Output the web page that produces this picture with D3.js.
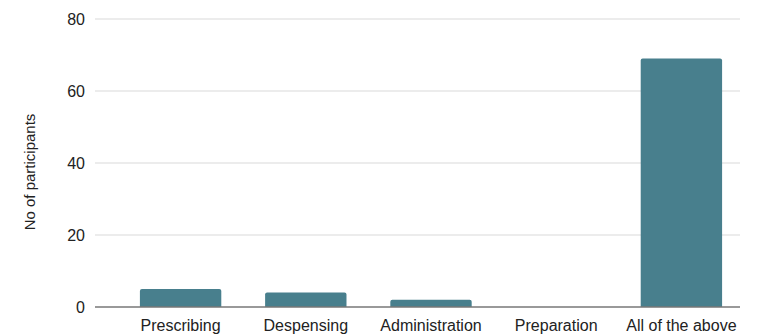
<!DOCTYPE html>
<html>
<head>
<meta charset="utf-8">
<script src="https://d3js.org/d3.v7.min.js"></script>
<style>
  body { margin: 0; background: #fff; }
  svg text { font-family: "Liberation Sans", Arial, sans-serif; fill: #222; }
</style>
</head>
<body>
<div id="holder"></div>
<script>
// data
const categories = ["Prescribing", "Despensing", "Administration", "Preparation", "All of the above"];
const participants = [5, 4, 2, 0, 69];
const yTicks = [0, 20, 40, 60, 80];

const w = 758, h = 335;
const plotLeft = 95, plotRight = 740, plotTop = 19, plotBottom = 307;

const svg = d3.select("#holder").append("svg")
    .attr("width", w)
    .attr("height", h);

const xScale = d3.scaleBand()
    .domain(categories)
    .range([118, 744])
    .paddingInner(0.35)
    .paddingOuter(0.175);

const yScale = d3.scaleLinear()
    .domain([0, 80])
    .range([plotBottom, plotTop]);

// gridlines
svg.append("g").selectAll("line")
    .data(yTicks.filter(d => d > 0))
    .enter().append("line")
    .attr("x1", plotLeft).attr("x2", plotRight)
    .attr("y1", d => yScale(d)).attr("y2", d => yScale(d))
    .attr("stroke", "#d9d9d9")
    .attr("stroke-width", 1);

// bars
svg.append("g").selectAll("path")
    .data(categories)
    .enter().append("path")
    .attr("fill", "#487f8d")
    .attr("d", (d, i) => {
        const x0 = xScale(d), bw = xScale.bandwidth();
        const y0 = yScale(participants[i]), y1 = yScale(0);
        if (y1 - y0 < 0.5) return "";
        const r = Math.min(2, y1 - y0);
        return "M" + x0 + "," + y1 +
            "V" + (y0 + r) +
            "Q" + x0 + "," + y0 + " " + (x0 + r) + "," + y0 +
            "H" + (x0 + bw - r) +
            "Q" + (x0 + bw) + "," + y0 + " " + (x0 + bw) + "," + (y0 + r) +
            "V" + y1 + "Z";
    });

// baseline
svg.append("line")
    .attr("x1", plotLeft).attr("x2", plotRight)
    .attr("y1", yScale(0)).attr("y2", yScale(0))
    .attr("stroke", "#777")
    .attr("stroke-width", 1.3);

// y axis
const yAxis = d3.axisLeft(yScale).tickValues(yTicks).tickSize(0).tickPadding(0);
const yg = svg.append("g")
    .attr("transform", "translate(85,0)")
    .call(yAxis);
yg.select(".domain").remove();
yg.selectAll("text").style("font-size", "16px").attr("fill", "#222");

// x axis
const xAxis = d3.axisBottom(xScale).tickSize(0).tickPadding(0);
const xg = svg.append("g")
    .attr("transform", "translate(0," + (plotBottom + 13) + ")")
    .call(xAxis);
xg.select(".domain").remove();
xg.selectAll("text").style("font-size", "16px").attr("fill", "#222");

// y label
svg.append("text")
    .attr("transform", "translate(35,172) rotate(-90)")
    .attr("text-anchor", "middle")
    .style("font-size", "15px")
    .text("No of participants");
</script>
</body>
</html>
